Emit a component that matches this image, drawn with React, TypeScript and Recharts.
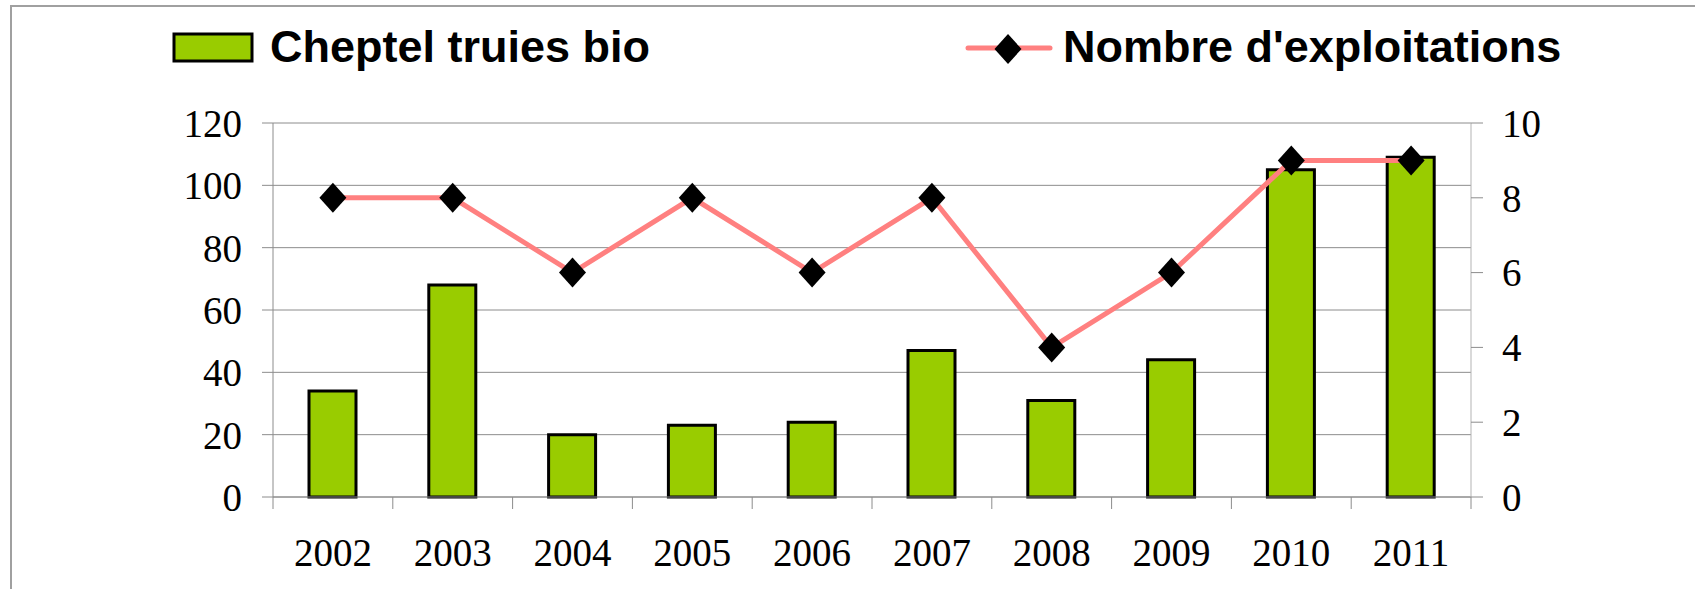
import React from 'react';
import { ComposedChart, Bar, Line, XAxis, YAxis, CartesianGrid, Legend } from 'recharts';

const years = ['2002', '2003', '2004', '2005', '2006', '2007', '2008', '2009', '2010', '2011'];
const cheptel = [34, 68, 20, 23, 24, 47, 31, 44, 105, 109];
const exploitations = [8, 8, 6, 8, 6, 8, 4, 6, 9, 9];
const leftTicks = [0, 20, 40, 60, 80, 100, 120];
const rightTicks = [0, 2, 4, 6, 8, 10];
const boundaryTicks = [0, 1, 2, 3, 4, 5, 6, 7, 8, 9, 10];

const seriesNames = { bar: 'Cheptel truies bio', line: "Nombre d'exploitations" };

// pos = slot centre on a 0..N boundary scale (used only for the category separator ticks)
const data = years.map((y, i) => ({ year: y, pos: i + 0.5, cheptel: cheptel[i], exploitations: exploitations[i] }));

const W = 1695;
const H = 589;

const Diamond = (props: any) => {
  const { cx, cy } = props;
  if (cx == null || cy == null) return null;
  return <path d={`M${cx},${cy - 15} L${cx + 13.5},${cy} L${cx},${cy + 15} L${cx - 13.5},${cy} Z`} fill="#000" />;
};

const renderLegend = () => (
  <svg width={W} height={90} style={{ display: 'block' }}>
    <rect x={174} y={34} width={78} height={27} fill="#99CC00" stroke="#000" strokeWidth={3} />
    <text x={270} y={62} fontFamily="'Liberation Sans', Arial, sans-serif" fontWeight="bold" fontSize={45} fill="#000">
      {seriesNames.bar}
    </text>
    <line x1={968} y1={48} x2={1050} y2={48} stroke="#FF8080" strokeWidth={5} strokeLinecap="round" />
    <path d="M1008,34 L1021.5,49 L1008,64 L994.5,49 Z" fill="#000" />
    <text x={1063} y={62} fontFamily="'Liberation Sans', Arial, sans-serif" fontWeight="bold" fontSize={45} fill="#000">
      {seriesNames.line}
    </text>
  </svg>
);

const tickFont = { fontFamily: "'Liberation Serif', 'Times New Roman', serif", fontSize: 39, fill: '#000' };

export default function App() {
  return (
    <div style={{ position: 'absolute', left: 0, top: 0, width: W, height: H, overflow: 'hidden', background: '#fff' }}>
      <div
        style={{
          position: 'absolute',
          left: 10,
          top: 5,
          width: W + 20,
          height: H + 20,
          borderTop: '2px solid #a0a0a0',
          borderLeft: '2px solid #a0a0a0',
        }}
      />
      <div style={{ position: 'absolute', left: 0, top: 0 }}>
        <ComposedChart width={W} height={H} data={data} margin={{ top: 123, right: 0, bottom: 0, left: 0 }}>
          <CartesianGrid yAxisId="left" horizontal vertical={false} stroke="#8c8c8c" strokeWidth={1} />
          <XAxis
            xAxisId="bounds"
            dataKey="pos"
            type="number"
            domain={[0, years.length]}
            ticks={boundaryTicks}
            allowDataOverflow
            height={1}
            axisLine={{ stroke: '#8c8c8c' }}
            tickLine={{ stroke: '#8c8c8c' }}
            tickSize={12}
            tick={() => <g />}
            interval={0}
          />
          <XAxis
            xAxisId="cat"
            dataKey="year"
            type="category"
            height={91}
            axisLine={false}
            tickLine={false}
            tickSize={0}
            tickMargin={40}
            tick={tickFont}
            interval={0}
          />
          <YAxis
            yAxisId="left"
            orientation="left"
            width={273}
            domain={[0, 120]}
            ticks={leftTicks}
            interval={0}
            axisLine={{ stroke: '#8c8c8c' }}
            tickLine={{ stroke: '#8c8c8c' }}
            tickSize={11}
            tickMargin={20}
            tick={tickFont}
          />
          <YAxis
            yAxisId="right"
            orientation="right"
            width={224}
            domain={[0, 10]}
            ticks={rightTicks}
            interval={0}
            axisLine={{ stroke: '#b3b3b3' }}
            tickLine={{ stroke: '#8c8c8c' }}
            tickSize={12}
            tickMargin={19}
            tick={tickFont}
          />
          <Legend layout="horizontal" verticalAlign="middle" align="center" content={renderLegend} wrapperStyle={{ position: 'absolute', left: 0, top: 0, width: W }} />
          <Bar
            xAxisId="cat"
            yAxisId="left"
            dataKey="cheptel"
            name={seriesNames.bar}
            barSize={47}
            fill="#99CC00"
            stroke="#000"
            strokeWidth={3}
            isAnimationActive={false}
          />
          <Line
            xAxisId="cat"
            yAxisId="right"
            dataKey="exploitations"
            name={seriesNames.line}
            type="linear"
            stroke="#FF8080"
            strokeWidth={5}
            dot={<Diamond />}
            activeDot={false}
            isAnimationActive={false}
          />
        </ComposedChart>
      </div>
    </div>
  );
}
